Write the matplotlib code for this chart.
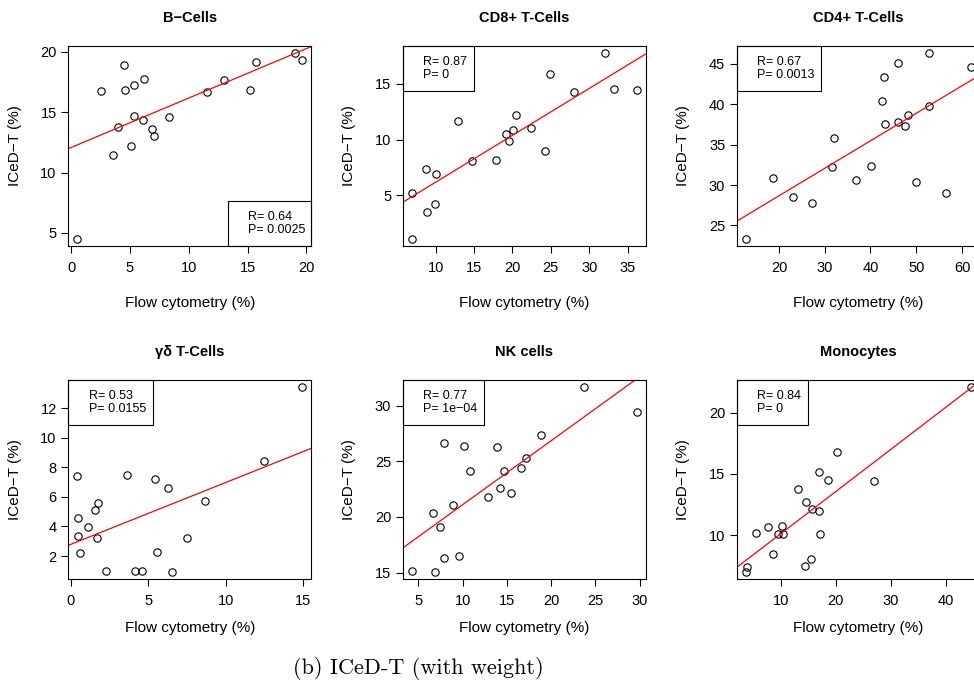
import numpy as np
import matplotlib
matplotlib.use("Agg")
import matplotlib.pyplot as plt
from matplotlib.ticker import MultipleLocator
from matplotlib.patches import Rectangle

plt.rcParams['font.family'] = ['Liberation Sans', 'DejaVu Sans']

titles = ['B\u2212Cells', 'CD8+ T-Cells', 'CD4+ T-Cells',
          '\u03b3\u03b4 T-Cells', 'NK cells', 'Monocytes']

b_x = [0.54, 2.55, 3.54, 4.02, 4.50, 4.55, 5.12, 5.32, 5.32, 6.20,
       6.11, 6.85, 7.07, 8.29, 11.54, 13.04, 15.25, 15.70, 19.04, 19.63]
b_y = [4.53, 16.77, 11.42, 13.82, 18.91, 16.82, 12.20, 17.30, 14.68, 17.72,
       14.35, 13.62, 13.01, 14.62, 16.69, 17.66, 16.88, 19.14, 19.89, 19.36]

cd8_x = [6.92, 6.92, 8.70, 8.91, 9.87, 10.09, 12.91, 14.73, 17.90, 19.11,
         19.59, 20.03, 20.42, 22.37, 24.28, 24.84, 28.06, 32.09, 33.18, 36.17]
cd8_y = [1.14, 5.24, 7.38, 3.49, 4.22, 6.93, 11.66, 8.07, 8.16, 10.48,
         9.88, 10.90, 12.20, 11.05, 8.98, 15.90, 14.25, 17.74, 14.55, 14.49]

cd4_x = [12.79, 18.69, 23.13, 27.28, 31.58, 32.02, 36.75, 40.17, 42.58, 42.87,
         43.23, 46.07, 45.93, 47.46, 48.19, 49.93, 52.70, 52.84, 56.49, 61.88]
cd4_y = [23.38, 30.85, 28.53, 27.82, 32.18, 35.83, 30.64, 32.30, 40.37, 43.32,
         37.53, 45.12, 37.82, 37.28, 38.61, 30.39, 39.73, 46.29, 29.02, 44.63]

gd_x = [0.43, 0.47, 0.47, 0.62, 1.10, 1.59, 1.78, 1.72, 2.26, 3.61,
        4.13, 4.62, 5.42, 5.59, 6.28, 6.56, 7.53, 8.65, 12.47, 14.92]
gd_y = [7.39, 4.57, 3.35, 2.18, 3.96, 5.09, 5.56, 3.24, 1.00, 7.46,
        1.02, 1.00, 7.19, 2.24, 6.58, 0.95, 3.22, 5.74, 8.41, 13.42]

nk_x = [4.29, 6.84, 6.62, 7.48, 7.89, 7.93, 8.94, 9.62, 10.11, 10.82,
        12.85, 13.94, 14.20, 14.73, 15.52, 16.61, 17.14, 18.87, 23.72, 29.66]
nk_y = [15.18, 15.09, 20.33, 19.13, 26.68, 16.35, 21.08, 16.50, 26.35, 24.13,
        21.82, 26.26, 22.57, 24.13, 22.15, 24.43, 25.33, 27.42, 31.68, 29.46]

mono_x = [3.71, 3.83, 5.46, 7.76, 8.61, 9.46, 10.24, 10.48, 13.21, 14.48,
          14.60, 15.45, 15.69, 16.90, 16.96, 17.14, 18.53, 20.22, 27.00, 44.48]
mono_y = [7.04, 7.45, 10.19, 10.71, 8.51, 10.08, 10.79, 10.14, 13.75, 7.50,
          12.74, 8.10, 12.15, 15.16, 11.96, 10.11, 14.51, 16.82, 14.46, 22.07]

# fitted lines (intercept, slope)
intercepts = [12.08, 1.99, 21.87, 2.79, 15.34, 6.68]
slopes = [0.410, 0.420, 0.340, 0.4185, 0.576, 0.344]

r_vals = ['0.64', '0.87', '0.67', '0.53', '0.77', '0.84']
p_vals = ['0.0025', '0', '0.0013', '0.0155', '1e\u221204', '0']

x_steps = [5, 5, 10, 5, 5, 10]
y_steps = [5, 5, 5, 2, 5, 5]

xs = [b_x, cd8_x, cd4_x, gd_x, nk_x, mono_x]
ys = [b_y, cd8_y, cd4_y, gd_y, nk_y, mono_y]

fig = plt.figure(figsize=(9.74, 6.9), dpi=100)

lefts = [0.0703, 0.4138, 0.7567]
rows = [(0.6435, 0.290), (0.161, 0.2885)]
# legend box: (corner, width) in axes fraction
boxes = [('br', 0.343), ('tl', 0.292), ('tl', 0.347),
         ('tl', 0.350), ('tl', 0.335), ('tl', 0.293)]
xlab_off = [-0.285, -0.245]

for i in range(6):
    row, col = divmod(i, 3)
    bottom, height = rows[row]
    ax = fig.add_axes([lefts[col], bottom, 0.249, height])
    x = np.array(xs[i])
    y = np.array(ys[i])

    ax.plot(x, y, 'o', mfc='none', mec='black', ms=5.3, mew=0.8)
    ax.axline((0, intercepts[i]), slope=slopes[i], color='red', lw=0.9)

    # R style 4% range expansion
    dx = (x.max() - x.min()) * 0.04
    dy = (y.max() - y.min()) * 0.04
    ax.set_xlim(x.min() - dx, x.max() + dx)
    ax.set_ylim(y.min() - dy, y.max() + dy)
    ax.xaxis.set_major_locator(MultipleLocator(x_steps[i]))
    ax.yaxis.set_major_locator(MultipleLocator(y_steps[i]))

    ax.tick_params(direction='out', length=5, width=0.8, labelsize=10.5)
    ax.tick_params(axis='x', pad=6)
    ax.tick_params(axis='y', pad=3.5)
    for s in ax.spines.values():
        s.set_linewidth(0.8)

    ax.set_title(titles[i], fontsize=10.5, fontweight='bold', pad=17)
    ax.set_xlabel('Flow cytometry (%)', fontsize=11)
    ax.set_ylabel('ICeD\u2212T (%)', fontsize=11)
    ax.xaxis.set_label_coords(0.5, xlab_off[row])
    ax.xaxis.label.set_va('center')
    ax.yaxis.set_label_coords(-0.222, 0.5)
    ax.yaxis.label.set_va('center')

    corner, bw = boxes[i]
    bh = 0.225
    if corner == 'br':
        bx0, by0 = 1 - bw, 0
    else:
        bx0, by0 = 0, 1 - bh
    ax.add_patch(Rectangle((bx0, by0), bw, bh, transform=ax.transAxes,
                           fill=False, ec='black', lw=0.8, clip_on=False))
    ax.text(bx0 + 0.083, by0 + bh * 0.65, 'R= ' + r_vals[i],
            transform=ax.transAxes, va='center', ha='left', fontsize=9)
    ax.text(bx0 + 0.083, by0 + bh * 0.35, 'P= ' + p_vals[i],
            transform=ax.transAxes, va='center', ha='left', fontsize=9)

fig.text(0.429, 1 - 668 / 690, '(b) ICeD-T (with weight)',
         family=['cmr10', 'DejaVu Serif'], fontsize=16, ha='center', va='center')

fig.savefig('out.png', dpi=100)
